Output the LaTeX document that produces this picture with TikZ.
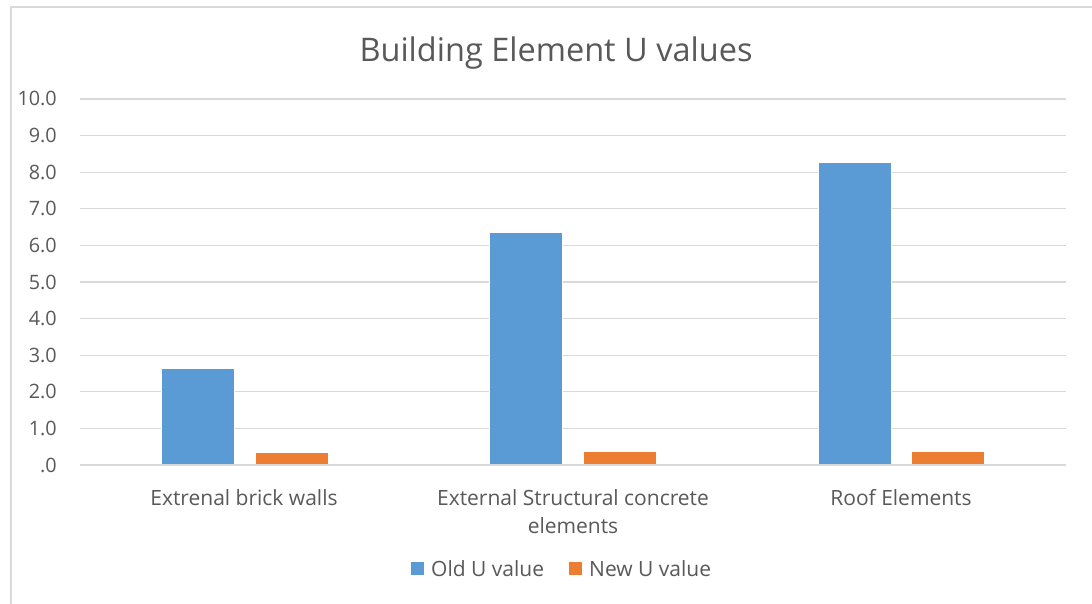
\documentclass[tikz,border=0pt]{standalone}
\usepackage{fontspec}
\setmainfont{Open Sans}
\definecolor{txt}{HTML}{595959}
\definecolor{grid}{HTML}{D9D9D9}
\definecolor{oldc}{HTML}{5B9BD5}
\definecolor{newc}{HTML}{ED7D31}
\tikzset{
  tick/.style={anchor=base east, text=txt, font=\fontsize{19.8}{24}\selectfont, inner sep=0pt},
  cat/.style={anchor=base, text=txt, font=\fontsize{21}{25}\selectfont, inner sep=0pt},
  gridline/.style={draw=grid, line width=1.3pt},
  oldbar/.style={fill=oldc, draw=white, line width=0.6pt},
  newbar/.style={fill=newc, draw=white, line width=0.6pt},
}
\begin{document}
\begin{tikzpicture}[x=1pt,y=-1pt]
\useasboundingbox (0,0) rectangle (1092,604);
\fill[white] (0,0) rectangle (1092,604);
% chart border
\draw[grid, line width=1.5pt] (11,604) -- (11,7) -- (1092,7);
% title
\node[anchor=base, text=txt, font=\fontsize{32.5}{38}\selectfont, inner sep=0pt] (title) at (556,62) {Building Element U values};
% gridlines and ticks
\foreach \v/\l in {0/.0,1/1.0,2/2.0,3/3.0,4/4.0,5/5.0,6/6.0,7/7.0,8/8.0,9/9.0,10/10.0}{
  \pgfmathsetmacro{\yy}{465-36.6*\v}
  \draw[gridline] (80,\yy) -- (1066,\yy);
  \node[tick] (t\v) at (57,\yy+7) {\l};
}
% bars
\pgfmathsetmacro{\s}{36.6}
\fill[oldbar] (161,465) rectangle (234,{465-\s*2.65});
\fill[newbar] (255,465) rectangle (328,{465-\s*0.34});
\fill[oldbar] (489,465) rectangle (562,{465-\s*6.35});
\fill[newbar] (583,465) rectangle (656,{465-\s*0.37});
\fill[oldbar] (818,465) rectangle (891,{465-\s*8.27});
\fill[newbar] (911,465) rectangle (984,{465-\s*0.37});
\draw[gridline] (80,465) -- (1066,465);
% category labels
\node[cat] (c1) at (244,505) {Extrenal brick walls};
\node[cat] (c2a) at (573,505) {External Structural concrete};
\node[cat] (c2b) at (573,533) {elements};
\node[cat] (c3) at (901,505) {Roof Elements};
% legend
\fill[oldc] (411,562) rectangle (424,575);
\node[anchor=base west, text=txt, font=\fontsize{21}{25}\selectfont, inner sep=0pt] (l1) at (431,576) {Old U value};
\fill[newc] (569,562) rectangle (582,575);
\node[anchor=base west, text=txt, font=\fontsize{21}{25}\selectfont, inner sep=0pt] (l2) at (589,576) {New U value};
\end{tikzpicture}
\end{document}
